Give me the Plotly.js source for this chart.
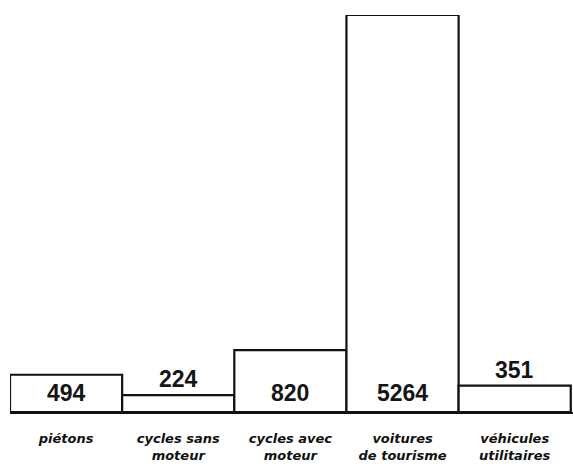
<!DOCTYPE html>
<html>
<head>
<meta charset="utf-8">
<script src="https://cdn.plot.ly/plotly-3.0.1.min.js"></script>
<style>html,body{margin:0;padding:0;background:#fff;}#chart{width:573px;height:464px;}</style>
</head>
<body>
<div id="chart"></div>
<script>
const categories = ["piétons", "cycles sans<br>moteur", "cycles avec<br>moteur", "voitures<br>de tourisme", "véhicules<br>utilitaires"];
const values = [494, 224, 820, 5264, 351];
const valueLabels = ["494", "224", "820", "5264", "351"];
const labelInside = [true, false, true, true, false];

const idx = categories.map((c, i) => i);
const valueFont = {family: "Liberation Sans, Arial, sans-serif", size: 23, weight: "bold", color: "#151515"};

const annotations = idx.map(i => labelInside[i]
  ? {x: i, y: 0, xref: "x", yref: "y", text: valueLabels[i], showarrow: false,
     yanchor: "middle", yshift: 19, font: valueFont}
  : {x: i, y: values[i], xref: "x", yref: "y", text: valueLabels[i], showarrow: false,
     yanchor: "bottom", yshift: 1, font: valueFont});

Plotly.newPlot("chart", [{
  type: "bar",
  x: idx,
  y: values,
  marker: {color: "#ffffff", line: {color: "#111", width: 2.2}},
  hoverinfo: "none"
}], {
  width: 573,
  height: 464,
  margin: {l: 10, r: 0, t: 15, b: 52},
  paper_bgcolor: "#fff",
  plot_bgcolor: "#fff",
  bargap: 0,
  showlegend: false,
  annotations: annotations,
  xaxis: {
    range: [-0.5, 4.52],
    tickvals: idx,
    ticktext: categories,
    ticks: "",
    showgrid: false,
    zeroline: false,
    showline: true,
    linecolor: "#111",
    linewidth: 2.2,
    ticklabelstandoff: 13,
    tickfont: {family: "DejaVu Sans, Liberation Sans, sans-serif", size: 13, style: "italic", weight: "bold", color: "#111"}
  },
  yaxis: {
    range: [0, 5264],
    visible: false,
    showgrid: false,
    zeroline: false
  }
}, {displayModeBar: false, staticPlot: true});
</script>
</body>
</html>
